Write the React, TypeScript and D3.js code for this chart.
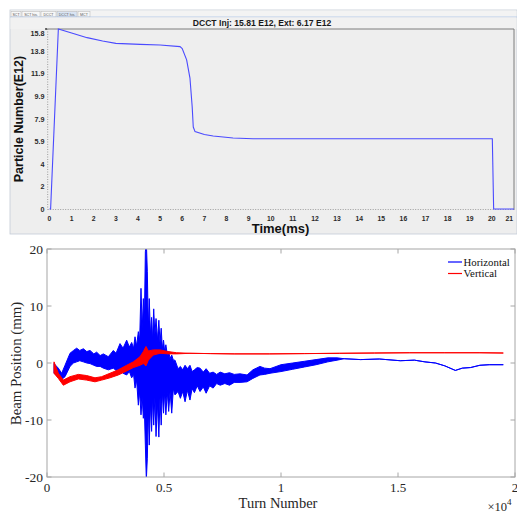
import React from 'react';
import * as d3 from 'd3';

// ---------- Top panel (DCCT) data ----------
const dcctTime = [0, 0.05, 0.4, 1.0, 1.7, 2.4, 3.0, 4.1, 5.0, 5.9, 6.0, 6.2, 6.35, 6.45, 6.5, 6.58, 7.0, 7.4, 8.3, 9.2, 12, 16, 20.02, 20.08, 21];
const dcctValue = [0, 0, 15.81, 15.45, 15.05, 14.75, 14.55, 14.46, 14.4, 14.26, 14.1, 13.1, 11.5, 9.0, 7.2, 6.8, 6.55, 6.41, 6.24, 6.17, 6.17, 6.17, 6.17, 0, 0];
const dcctYTicks = [0, 1.98, 3.95, 5.93, 7.9, 9.88, 11.86, 13.83, 15.81];
const dcctYLabels = ['0', '2', '4', '5.9', '7.9', '9.9', '11.9', '13.8', '15.8'];
const dcctXTicks = d3.range(0, 22);
const tabLabels = ['SCT', 'SCT his.', 'DCCT', 'DCCT his.', 'MCT'];
const tabWidths = [10, 18, 15, 20, 12];
const selectedTab = 3;
const dcctTitle = 'DCCT Inj: 15.81 E12,  Ext: 6.17 E12';

// ---------- Bottom panel (beam position) data ----------
// Horizontal: turn number, upper and lower envelope of the oscillation (mm)
const hTurns = [300, 484, 627, 770, 983, 1130, 1268, 1400, 1553, 1700, 1838, 2000, 2123, 2270, 2408, 2621, 2835, 2950, 3120, 3250, 3405, 3520, 3618, 3700, 3761, 3830, 3903, 3960, 4017, 4070, 4117, 4160, 4203, 4245, 4288, 4330, 4370, 4420, 4470, 4510, 4560, 4610, 4660, 4720, 4780, 4830, 4880, 4930, 4980, 5030, 5080, 5140, 5200, 5260, 5330, 5400, 5470, 5600, 5700, 5800, 5900, 6000, 6110, 6200, 6300, 6420, 6540, 6680, 6800, 6950, 7100, 7250, 7400, 7600, 7800, 8000, 8250, 8550, 8800, 9100, 9300, 9530, 10000, 10500, 11000, 11500, 12000, 12400, 12700, 13400, 14200, 15100, 15700, 16150, 16600, 17000, 17450, 17750, 18100, 18500, 18900, 19500];
const hUpper = [-0.1, -0.9, -1.8, -0.4, 1.7, 2.2, 2.6, 2.2, 2.5, 2.0, 2.2, 1.6, 1.9, 1.3, 1.6, 1.1, 2.2, 1.7, 3.4, 2.6, 4.0, 2.8, 3.6, 2.6, 4.6, 3.0, 5.5, 4.0, 13.1, 6.0, 11.3, 7.0, 19.5, 21.3, 16.0, 6.0, 11.3, 5.0, 8.0, 4.0, 9.5, 5.0, 7.8, 4.0, 7.5, 3.5, 6.1, 2.5, 4.0, 2.0, 3.2, 1.5, 2.0, 0.8, 1.4, 0.5, 0.5, -1.0, -0.6, -1.2, -0.4, -1.0, -0.4, -1.5, -1.2, -0.8, -0.9, -1.6, -1.0, -1.8, -1.6, -2.0, -1.6, -1.9, -1.7, -2.0, -1.9, -2.1, -1.2, -0.6, -0.9, -1.0, -0.3, 0.0, 0.3, 0.6, 0.9, 0.9, 0.75, 0.6, 0.7, 0.4, 0.5, 0.2, 0.0, -0.5, -1.3, -0.9, -0.8, -0.4, -0.3, -0.3];
const hLower = [-1.8, -2.4, -2.9, -2.4, -0.6, 0.0, 0.2, 0.4, 0.2, 0.0, -0.1, -0.4, -0.6, -0.6, -0.9, -1.2, -0.9, -1.3, -1.0, -1.8, -2.1, -1.5, -2.6, -2.0, -4.4, -3.0, -7.4, -5.0, -9.1, -6.0, -9.7, -8.0, -14.4, -20.5, -16.7, -8.0, -14.4, -7.0, -12.0, -6.0, -10.9, -6.0, -12.9, -7.0, -13.0, -6.0, -10.9, -5.0, -8.8, -5.0, -9.1, -5.0, -8.5, -5.0, -8.8, -4.5, -5.6, -5.0, -6.2, -5.0, -6.8, -4.8, -6.5, -4.5, -5.2, -4.0, -5.0, -4.2, -5.3, -4.0, -4.4, -3.6, -3.9, -3.6, -3.9, -3.4, -3.4, -3.3, -2.7, -2.1, -2.0, -1.8, -1.5, -1.1, -0.7, -0.3, 0.2, 0.5, 0.75, 0.6, 0.7, 0.4, 0.5, 0.2, 0.0, -0.5, -1.3, -0.9, -0.8, -0.4, -0.3, -0.3];

// Vertical: turn number, upper and lower envelope (mm)
const vTurns = [300, 484, 698, 983, 1339, 1695, 2051, 2336, 2692, 3048, 3405, 3690, 3974, 4117, 4231, 4331, 4544, 4829, 5185, 5541, 6110, 7000, 8000, 9500, 11000, 12500, 14000, 15500, 17000, 18500, 19500];
const vUpper = [0.2, -1.8, -3.0, -2.4, -2.0, -2.2, -2.6, -2.4, -1.8, -1.2, -0.4, 0.2, 1.1, 2.0, 2.9, 2.1, 2.3, 2.3, 2.0, 1.8, 1.7, 1.65, 1.6, 1.6, 1.65, 1.7, 1.75, 1.8, 1.8, 1.8, 1.75];
const vLower = [-1.8, -2.7, -3.9, -3.3, -2.8, -3.0, -3.3, -3.0, -2.6, -2.1, -1.4, -0.8, -0.4, -0.1, -0.5, 0.5, 1.4, 1.7, 1.6, 1.6, 1.7, 1.65, 1.6, 1.6, 1.65, 1.7, 1.75, 1.8, 1.8, 1.8, 1.75];

const bXTicks = [0, 5000, 10000, 15000, 20000];
const bXLabels = ['0', '0.5', '1', '1.5', '2'];
const bYTicks = [-20, -10, 0, 10, 20];
const legendItems = [
  { name: 'Horizontal', color: '#0000ff' },
  { name: 'Vertical', color: '#ff0000' },
];

export default function App() {
  // top scales
  const xT = d3.scaleLinear().domain([0, 21]).range([49.5, 514]);
  const yT = d3.scaleLinear().domain([0, 15.81]).range([209, 29]);
  const dcctLine = d3
    .line<number>()
    .x((_, i) => xT(dcctTime[i]))
    .y((_, i) => yT(dcctValue[i]))(dcctValue) as string;

  // bottom scales
  const xB = d3.scaleLinear().domain([0, 20000]).range([47, 515]);
  const yB = d3.scaleLinear().domain([-20, 20]).range([477, 249]);
  const hArea = d3
    .area<number>()
    .x((_, i) => xB(hTurns[i]))
    .y0((_, i) => yB(hLower[i]))
    .y1((_, i) => yB(hUpper[i]))(hUpper) as string;
  const vArea = d3
    .area<number>()
    .x((_, i) => xB(vTurns[i]))
    .y0((_, i) => yB(vLower[i]))
    .y1((_, i) => yB(vUpper[i]))(vUpper) as string;

  const tabX: number[] = [];
  let acc = 11;
  tabWidths.forEach((w) => {
    tabX.push(acc);
    acc += w + 1;
  });

  const sans = '"Liberation Sans", Arial, sans-serif';
  const serif = '"Liberation Serif", "Times New Roman", serif';
  const [bx0, bx1] = xB.range();
  const [by0, by1] = [yB(20), yB(-20)];

  return (
    <svg
      width={517}
      height={512}
      style={{ position: 'absolute', left: 0, top: 0, background: '#ffffff' }}
    >
      {/* ---------- TOP PANEL ---------- */}
      <rect x={10} y={10} width={507} height={224} fill="#eeeeee" stroke="#c3cbd6" strokeWidth={0.8} />
      <rect x={10.5} y={10.5} width={506} height={6.5} fill="#f3f3f3" />
      {tabLabels.map((t, i) => (
        <g key={t}>
          <rect
            x={tabX[i]}
            y={11.5}
            width={tabWidths[i]}
            height={5.5}
            fill={i === selectedTab ? '#d9e4f3' : '#f7f7f7'}
            stroke="#b4b4b4"
            strokeWidth={0.5}
          />
          <text
            x={tabX[i] + tabWidths[i] / 2}
            y={15.6}
            fontSize={3.6}
            fontFamily={sans}
            textAnchor="middle"
            fill="#555"
          >
            {t}
          </text>
        </g>
      ))}
      <line x1={10} x2={517} y1={17} y2={17} stroke="#a9c1e6" strokeWidth={0.8} />
      <rect x={10.5} y={17.4} width={506} height={11.6} fill="#f1f1f1" />
      <text
        x={262}
        y={25.5}
        fontSize={8.6}
        fontWeight={700}
        fontFamily={sans}
        textAnchor="middle"
        fill="#1a1a1a"
      >
        {dcctTitle}
      </text>
      {/* plot frame */}
      <line x1={46} x2={514} y1={29} y2={29} stroke="#707070" strokeWidth={0.9} />
      <line x1={514} x2={514} y1={29} y2={210} stroke="#707070" strokeWidth={0.9} />
      <line x1={47.7} x2={47.7} y1={29} y2={209.5} stroke="#888" strokeWidth={0.8} strokeDasharray="1,1.5" />
      <line x1={47.7} x2={514} y1={209.5} y2={209.5} stroke="#888" strokeWidth={0.8} strokeDasharray="1,1.5" />
      <circle cx={46} cy={29} r={0.9} fill="#333" />
      {dcctYTicks.map((v, i) => (
        <text
          key={'yt' + i}
          x={44.5}
          y={yT(v) + (i === dcctYTicks.length - 1 ? 4.5 : 0)}
          fontSize={7.2}
          fontWeight={700}
          fontFamily={sans}
          textAnchor="end"
          dominantBaseline="central"
          fill="#2a2a2a"
        >
          {dcctYLabels[i]}
        </text>
      ))}
      {dcctXTicks.map((v, i) => (
        <text
          key={'xt' + i}
          x={i === dcctXTicks.length - 1 ? 513 : xT(v)}
          y={220.5}
          fontSize={6.8}
          fontWeight={700}
          fontFamily={sans}
          textAnchor={i === dcctXTicks.length - 1 ? 'end' : 'middle'}
          fill="#2a2a2a"
        >
          {String(v)}
        </text>
      ))}
      <path d={dcctLine} fill="none" stroke="#4a4aff" strokeWidth={1.1} />
      <text
        transform="translate(23,119) rotate(-90)"
        fontSize={12.5}
        fontWeight={700}
        fontFamily={sans}
        textAnchor="middle"
        fill="#111"
      >
        Particle Number(E12)
      </text>
      <text x={280.5} y={233} fontSize={13} fontWeight={700} fontFamily={sans} textAnchor="middle" fill="#111">
        Time(ms)
      </text>

      {/* ---------- BOTTOM PANEL ---------- */}
      <defs>
        <clipPath id="bclip">
          <rect x={bx0} y={by0} width={bx1 - bx0} height={by1 - by0} />
        </clipPath>
      </defs>
      <g clipPath="url(#bclip)">
        <path d={hArea} fill="#0000ff" stroke="#0000ff" strokeWidth={1} strokeLinejoin="round" />
        <path d={vArea} fill="#ff0000" stroke="#ff0000" strokeWidth={1} strokeLinejoin="round" />
      </g>
      <rect x={bx0} y={by0} width={bx1 - bx0} height={by1 - by0} fill="none" stroke="#a6a6a6" strokeWidth={1} />
      {bXTicks.map((t, i) => (
        <g key={'bx' + i}>
          <line x1={xB(t)} x2={xB(t)} y1={by1} y2={by1 - 4.5} stroke="#a6a6a6" />
          <line x1={xB(t)} x2={xB(t)} y1={by0} y2={by0 + 4.5} stroke="#a6a6a6" />
          <text
            x={xB(t)}
            y={492}
            fontSize={13}
            fontFamily={serif}
            textAnchor="middle"
            fill="#262626"
          >
            {bXLabels[i]}
          </text>
        </g>
      ))}
      {bYTicks.map((v, i) => (
        <g key={'by' + i}>
          <line x1={bx0} x2={bx0 + 4.5} y1={yB(v)} y2={yB(v)} stroke="#a6a6a6" />
          <line x1={bx1} x2={bx1 - 4.5} y1={yB(v)} y2={yB(v)} stroke="#a6a6a6" />
          <text
            x={43}
            y={yB(v) + 4.6}
            fontSize={13.5}
            fontFamily={serif}
            textAnchor="end"
            fill="#262626"
          >
            {String(v)}
          </text>
        </g>
      ))}
      <text
        transform="translate(21,363.5) rotate(-90)"
        fontSize={14.8}
        fontFamily={serif}
        textAnchor="middle"
        fill="#262626"
      >
        Beam Position (mm)
      </text>
      <text x={278} y={507.5} fontSize={14.5} fontFamily={serif} textAnchor="middle" fill="#262626">
        Turn Number
      </text>
      <text x={487.5} y={510.5} fontSize={12.5} fontFamily={serif} fill="#262626">
        ×10
        <tspan dy={-6} fontSize={9}>
          4
        </tspan>
      </text>
      {legendItems.map((it, i) => (
        <g key={it.name}>
          <line x1={448} x2={462} y1={262 + i * 11.5} y2={262 + i * 11.5} stroke={it.color} strokeWidth={1.2} />
          <text x={463.5} y={262 + i * 11.5 + 3.6} fontSize={10.8} fontFamily={serif} fill="#111">
            {it.name}
          </text>
        </g>
      ))}
    </svg>
  );
}
